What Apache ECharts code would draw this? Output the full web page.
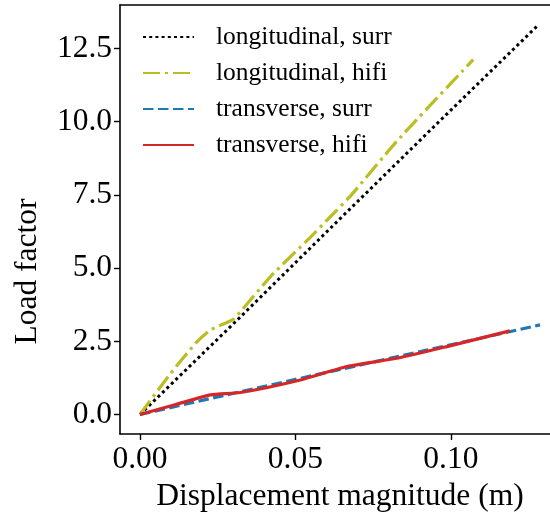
<!DOCTYPE html>
<html><head><meta charset="utf-8">
<script src="https://cdn.jsdelivr.net/npm/echarts@6/dist/echarts.min.js"></script>
<style>html,body{margin:0;padding:0;background:#fff;overflow:hidden}#c{width:550px;height:518px}</style>
</head><body><div id="c"></div>
<script>
// ---- data ----
const seriesNames = ['longitudinal, surr', 'longitudinal, hifi', 'transverse, surr', 'transverse, hifi'];
const longSurr = [[0,0],[0.032,3.30],[0.064,6.65],[0.096,9.98],[0.1283,13.32]];
const longHifi = [[0,0],[0.0099,1.41],[0.0184,2.49],[0.0227,2.89],[0.0297,3.23],[0.0323,3.51],[0.042,4.71],[0.0548,6.05],[0.0612,6.75],[0.0676,7.45],[0.0826,9.33],[0.1072,12.12]];
const transSurr = [[0,0],[0.032,0.77],[0.064,1.53],[0.096,2.29],[0.1287,3.06]];
const transHifi = [[0,0],[0.0115,0.34],[0.0227,0.67],[0.0323,0.75],[0.0516,1.18],[0.0666,1.64],[0.0826,1.92],[0.0987,2.32],[0.119,2.855]];
const xTicks = [0, 0.05, 0.10];
const yTicks = [0, 2.5, 5.0, 7.5, 10.0, 12.5];
const xLabel = 'Displacement magnitude (m)';
const yLabel = 'Load factor';

const FONT = 'Liberation Serif';
const X_MIN = -0.00643, X_MAX = 0.13191;
const chart = echarts.init(document.getElementById('c'), null, {renderer: 'canvas'});
const axisCommon = {
  axisLine: {show: true, onZero: false, lineStyle: {color: '#000', width: 1.6}},
  axisTick: {show: true, inside: false, length: 6, lineStyle: {color: '#000', width: 1.4}},
  splitLine: {show: false}
};
chart.setOption({
  animation: false,
  backgroundColor: '#fff',
  grid: {left: 120, top: 5, right: 0, height: 429, show: false, containLabel: false, outerBoundsMode: 'none'},
  legend: {
    orient: 'vertical', left: 137, top: 19,
    itemWidth: 51, itemHeight: 2, itemGap: 10,
    itemStyle: {opacity: 0},
    textStyle: {fontFamily: FONT, fontSize: 25.5, color: '#000', lineHeight: 26, padding: [0,0,0,17]},
    data: seriesNames
  },
  xAxis: [Object.assign({}, axisCommon, {
    type: 'value', min: X_MIN, max: X_MAX,
    name: xLabel, nameLocation: 'middle', nameGap: 44,
    nameTextStyle: {fontFamily: FONT, fontSize: 31.5, color: '#000', padding: [0, 0, 0, 10]},
    axisTick: Object.assign({}, axisCommon.axisTick, {customValues: xTicks}),
    axisLabel: {customValues: xTicks, fontFamily: FONT, fontSize: 31.5, color: '#000', margin: 10,
      formatter: v => v.toFixed(2)}
  }), {
    type: 'value', position: 'top', min: X_MIN, max: X_MAX,
    axisLine: {show: true, onZero: false, lineStyle: {color: '#000', width: 1.6}},
    axisTick: {show: false}, axisLabel: {show: false}, splitLine: {show: false}
  }],
  yAxis: Object.assign({}, axisCommon, {
    type: 'value', min: -0.666, max: 13.986,
    name: yLabel, nameLocation: 'middle', nameGap: 76, nameRotate: 90,
    nameTextStyle: {fontFamily: FONT, fontSize: 31.5, color: '#000', padding: [0, 104, 0, 0]},
    axisTick: Object.assign({}, axisCommon.axisTick, {customValues: yTicks}),
    axisLabel: {customValues: yTicks, fontFamily: FONT, fontSize: 31.5, color: '#000', margin: 8,
      formatter: v => v.toFixed(1)}
  }),
  series: [
    {name: seriesNames[0], type: 'line', data: longSurr, symbol: 'none', showSymbol: false,
      lineStyle: {color: '#000000', width: 3, type: [3, 3.2], cap: 'butt'}, itemStyle: {color: '#000000'}},
    {name: seriesNames[1], type: 'line', data: longHifi, symbol: 'none', showSymbol: false, smooth: 0.2,
      lineStyle: {color: '#bcbd22', width: 3.2, type: [17, 5, 3, 5], cap: 'butt'}, itemStyle: {color: '#bcbd22'}},
    {name: seriesNames[2], type: 'line', data: transSurr, symbol: 'none', showSymbol: false,
      lineStyle: {color: '#1f77b4', width: 3.2, type: [10.5, 4.5], cap: 'butt'}, itemStyle: {color: '#1f77b4'}},
    {name: seriesNames[3], type: 'line', data: transHifi, symbol: 'none', showSymbol: false, smooth: 0.2,
      lineStyle: {color: '#d62728', width: 3.2, type: 'solid'}, itemStyle: {color: '#d62728'}}
  ]
});
</script>
</body></html>
